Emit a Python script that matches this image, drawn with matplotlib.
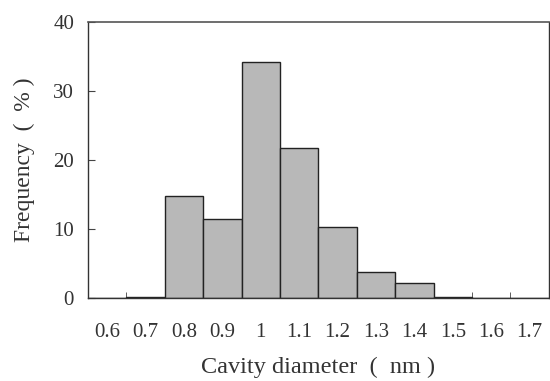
import matplotlib
matplotlib.use("Agg")
import matplotlib.pyplot as plt
import numpy as np

categories = ["0.6", "0.7", "0.8", "0.9", "1", "1.1", "1.2", "1.3", "1.4", "1.5", "1.6", "1.7"]
frequency = [0.0, 0.2, 14.8, 11.5, 34.2, 21.7, 10.3, 3.7, 2.2, 0.2, 0.0, 0.0]
y_ticks = [0, 10, 20, 30, 40]

plt.rcParams["font.family"] = ["Liberation Serif", "DejaVu Serif"]
plt.rcParams["font.size"] = 15

fig = plt.figure(figsize=(5.5, 3.81), dpi=100)
ax = fig.add_axes([0.16, 0.218, 0.838, 0.724])

x = np.arange(len(categories))
ax.bar(x, frequency, width=1.0, color="#b8b8b8", edgecolor="#222222", linewidth=1.0, zorder=2)

ax.set_xlim(-0.5, len(categories) - 0.5)
ax.set_ylim(0, 40)
ax.set_yticks(y_ticks)
ax.set_yticklabels([str(v) for v in y_ticks], color="#333333")

# category labels sit between the boundary ticks, Excel style
ax.set_xticks(x)
ax.set_xticklabels(categories, color="#333333")
ax.tick_params(axis="x", which="major", length=0, pad=18)
ax.set_xticks(x[1:] - 0.5, minor=True)
ax.tick_params(axis="x", which="minor", direction="in", length=4, color="#444444")
ax.tick_params(axis="y", direction="in", length=5, color="#444444", pad=10)

for side in ["left", "bottom", "right"]:
    ax.spines[side].set_color("#333333")
    ax.spines[side].set_linewidth(1.0)
ax.spines["top"].set_color("#555555")
ax.spines["top"].set_linewidth(1.2)

ax.set_xlabel("Cavity diameter  (  nm )", color="#333333", fontsize=17.5)
ax.set_ylabel("Frequency  (  % )", color="#333333", fontsize=17)
ax.xaxis.set_label_coords(0.5, -0.215)
ax.yaxis.set_label_coords(-0.115, 0.5)

fig.savefig("out.png", dpi=100)
